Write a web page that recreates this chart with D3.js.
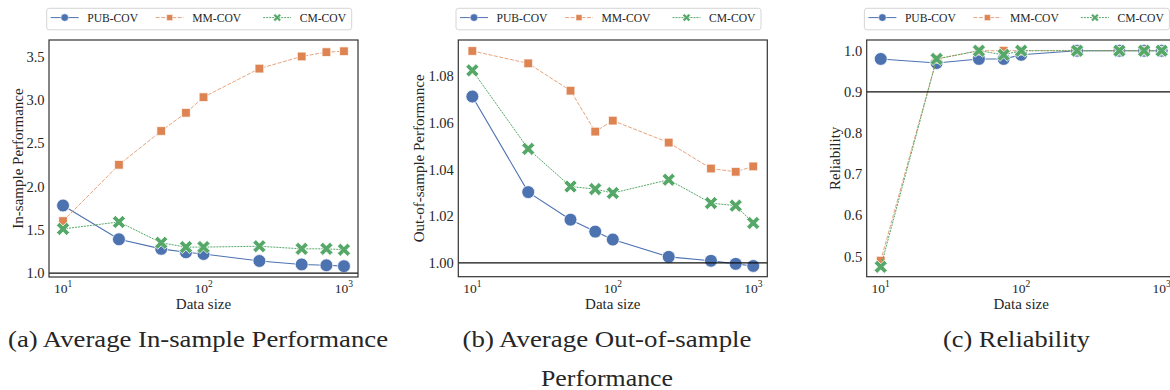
<!DOCTYPE html>
<html>
<head>
<meta charset="utf-8">
<script src="https://cdn.jsdelivr.net/npm/d3@7"></script>
<style>
  html, body { margin: 0; padding: 0; background: #fff; }
  svg { display: block; }
  text { font-family: "Liberation Serif", "Times New Roman", serif; fill: #262626; }
</style>
</head>
<body>
<svg id="chart" width="1170" height="390"></svg>
<script>
// data size on the x axis
const sizes = [10, 25, 50, 75, 100, 250, 500, 750, 1000];
const seriesNames = ['PUB-COV', 'MM-COV', 'CM-COV'];

// (a) average in-sample performance
const inPub = [1.78, 1.39, 1.28, 1.24, 1.22, 1.14, 1.10, 1.09, 1.08];
const inMm  = [1.60, 2.25, 2.64, 2.85, 3.03, 3.36, 3.50, 3.55, 3.56];
const inCm  = [1.51, 1.59, 1.35, 1.30, 1.30, 1.31, 1.28, 1.28, 1.27];

// (b) average out-of-sample performance
const outPub = [1.0712, 1.0303, 1.0185, 1.0134, 1.0100, 1.0026, 1.0009, 0.9996, 0.9987];
const outMm  = [1.0907, 1.0854, 1.0737, 1.0562, 1.0609, 1.0515, 1.0404, 1.0390, 1.0413];
const outCm  = [1.0824, 1.0488, 1.0327, 1.0316, 1.0299, 1.0356, 1.0256, 1.0245, 1.0171];

// (c) reliability
const relPub = [0.98, 0.97, 0.98, 0.98, 0.99, 1.00, 1.00, 1.00, 1.00];
const relMm  = [0.49, 0.98, 1.00, 1.00, 1.00, 1.00, 1.00, 1.00, 1.00];
const relCm  = [0.475, 0.98, 1.00, 0.99, 1.00, 1.00, 1.00, 1.00, 1.00];

// tick labels
const xTicks = [10, 100, 1000];
const inTicks = [1.0, 1.5, 2.0, 2.5, 3.0, 3.5];
const outTicks = [1.00, 1.02, 1.04, 1.06, 1.08];
const relTicks = [0.5, 0.6, 0.7, 0.8, 0.9, 1.0];

// thick filled "X" like matplotlib's marker, size = rough area
const symbolX = {
  draw(ctx, size) {
    const h = Math.sqrt(size) * 0.6;    // half extent
    const t = h * 0.46;                 // arm thickness factor
    ctx.moveTo(-h, -h + t);
    ctx.lineTo(-h + t, -h);
    ctx.lineTo(0, -t);
    ctx.lineTo(h - t, -h);
    ctx.lineTo(h, -h + t);
    ctx.lineTo(t, 0);
    ctx.lineTo(h, h - t);
    ctx.lineTo(h - t, h);
    ctx.lineTo(0, t);
    ctx.lineTo(-h + t, h);
    ctx.lineTo(-h, h - t);
    ctx.lineTo(-t, 0);
    ctx.closePath();
  }
};

const colors = ['#4c72b0', '#dd8452', '#55a868'];
const dashes = [null, '4,1.5', '2,1'];
const symbols = [d3.symbolCircle, d3.symbolSquare, symbolX];
const markerSize = [130, 76, 120];
const legendSize = [44, 36, 42];

const panels = [
  { left: 49, top: 40, width: 309, height: 237, domain: [0.955, 3.69], ticks: inTicks, fmt: d3.format('.1f'),
    series: [inPub, inMm, inCm], ref: 1.0, ylabel: 'In-sample Performance', ylabelOff: 26.5,
    caption: ['(a) Average In-sample Performance'], capX: 198, capW: [380] },
  { left: 458.3, top: 40, width: 309, height: 236.7, domain: [0.9941, 1.0954], ticks: outTicks, fmt: d3.format('.2f'),
    series: [outPub, outMm, outCm], ref: 1.0, ylabel: 'Out-of-sample Performance', ylabelOff: 34,
    caption: ['(b) Average Out-of-sample', 'Performance'], capX: 607, capW: [289, 132] },
  { left: 866.7, top: 40, width: 309, height: 236.7, domain: [0.451, 1.026], ticks: relTicks, fmt: d3.format('.1f'),
    series: [relPub, relMm, relCm], ref: 0.9, ylabel: 'Reliability', ylabelOff: 26.5,
    caption: ['(c) Reliability'], capX: 1016.5, capW: [147] }
];

const svg = d3.select('#chart');

panels.forEach(p => {
  const x = d3.scaleLog().domain([Math.pow(10, 0.9), Math.pow(10, 3.1)]).range([p.left, p.left + p.width]);
  const y = d3.scaleLinear().domain(p.domain).range([p.top + p.height, p.top]);
  const g = svg.append('g');

  // y tick labels
  g.selectAll('.ytick').data(p.ticks).enter().append('text')
    .attr('x', p.left - 4.5)
    .attr('y', d => y(d))
    .attr('dy', '0.35em')
    .attr('text-anchor', 'end')
    .attr('font-size', 14.5)
    .text(p.fmt);

  // x tick labels as 10^k
  const xt = g.selectAll('.xtick').data(xTicks).enter().append('text')
    .attr('x', d => x(d))
    .attr('y', 293)
    .attr('text-anchor', 'middle')
    .attr('font-size', 13.5);
  xt.append('tspan').text('10');
  xt.append('tspan').attr('dy', -6).attr('font-size', 9.5).text(d => Math.round(Math.log10(d)));

  g.append('text')
    .attr('x', p.left + p.width / 2)
    .attr('y', 308.5)
    .attr('text-anchor', 'middle')
    .attr('font-size', 15)
    .text('Data size');

  g.append('text')
    .attr('transform', `translate(${p.left - p.ylabelOff},${p.top + p.height / 2}) rotate(-90)`)
    .attr('text-anchor', 'middle')
    .attr('font-size', 15)
    .text(p.ylabel);

  // series: line then markers
  p.series.forEach((vals, si) => {
    const pts = sizes.map((s, i) => [x(s), y(vals[i])]);
    g.append('path')
      .attr('d', d3.line()(pts))
      .attr('fill', 'none')
      .attr('stroke', colors[si])
      .attr('stroke-width', si === 0 ? 1.1 : 1)
      .attr('stroke-opacity', si === 1 ? 0.75 : 1)
      .attr('stroke-dasharray', dashes[si]);
    g.selectAll('.m' + si).data(pts).enter().append('path')
      .attr('d', d3.symbol(symbols[si], markerSize[si]))
      .attr('transform', d => `translate(${d[0]},${d[1]})`)
      .attr('fill', colors[si])
      .attr('stroke', '#fff')
      .attr('stroke-width', 0.75);
  });

  // reference line
  g.append('line')
    .attr('x1', p.left).attr('x2', p.left + p.width)
    .attr('y1', y(p.ref)).attr('y2', y(p.ref))
    .attr('stroke', '#111').attr('stroke-width', 1.1);

  // frame
  g.append('rect')
    .attr('x', p.left).attr('y', p.top)
    .attr('width', p.width).attr('height', p.height)
    .attr('fill', 'none').attr('stroke', '#333').attr('stroke-width', 1.2);

  // legend
  const lg = g.append('g').attr('transform', `translate(${p.left - 2.3},8.3)`);
  lg.append('rect').attr('width', 305).attr('height', 21.5).attr('rx', 2.5)
    .attr('fill', '#fff').attr('stroke', '#d0d0d0').attr('stroke-width', 0.9);
  const itemX = [4, 109, 216.5];
  seriesNames.forEach((name, si) => {
    const ix = itemX[si];
    lg.append('line')
      .attr('x1', ix).attr('x2', ix + 28).attr('y1', 9.3).attr('y2', 9.3)
      .attr('stroke', colors[si]).attr('stroke-width', 1)
      .attr('stroke-opacity', si === 1 ? 0.75 : 1)
      .attr('stroke-dasharray', dashes[si]);
    lg.append('path')
      .attr('d', d3.symbol(symbols[si], legendSize[si]))
      .attr('transform', `translate(${ix + 14},9.3)`)
      .attr('fill', colors[si]).attr('stroke', '#fff').attr('stroke-width', 0.5);
    lg.append('text')
      .attr('x', ix + 36.5).attr('y', 14.2)
      .attr('font-size', 11.6)
      .text(name);
  });

  // sub-figure caption
  p.caption.forEach((line, li) => {
    g.append('text')
      .attr('x', p.capX).attr('y', 347.3 + li * 38.5)
      .attr('text-anchor', 'middle')
      .attr('font-size', 22.5)
      .attr('fill', '#111')
      .attr('textLength', p.capW[li])
      .attr('lengthAdjust', 'spacingAndGlyphs')
      .text(line);
  });
});
</script>
</body>
</html>
